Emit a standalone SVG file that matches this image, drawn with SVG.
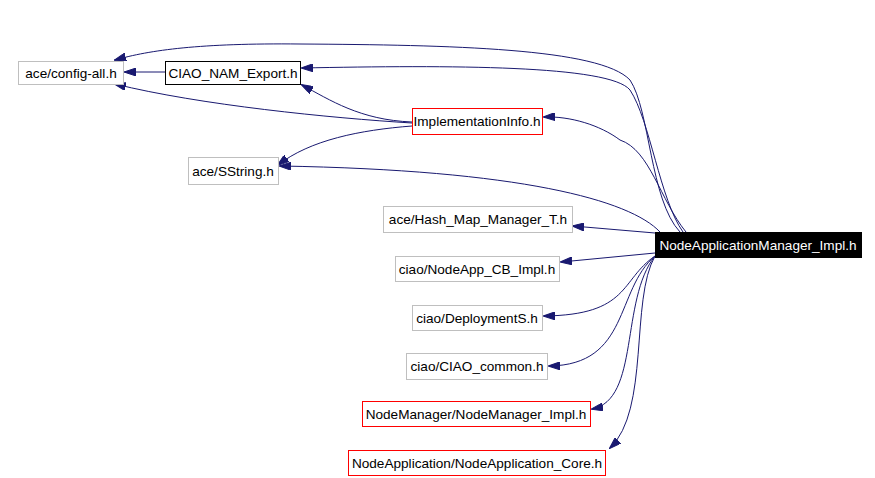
<svg xmlns="http://www.w3.org/2000/svg" width="875" height="478" viewBox="0 0 875 478">
<style>
text{font-family:"Liberation Sans",Arial,sans-serif;font-size:13.6px;fill:#000;text-anchor:middle}
.g{fill:#fff;stroke:#bfbfbf}
.k{fill:#fff;stroke:#000}
.r{fill:#fff;stroke:#f00}
.e{fill:none;stroke:#191970;stroke-width:1;marker-end:url(#a)}
</style>
<defs><marker id="a" markerWidth="12" markerHeight="8" refX="11" refY="4" orient="auto" markerUnits="userSpaceOnUse"><path d="M0,0L12,4L0,8z" fill="#191970" stroke="#191970"/></marker></defs>
<rect width="875" height="478" fill="#fff"/>
<g id="edges">
<path class="e" d="M165,72H125"/>
<path class="e" d="M412,123C330,118 200,105 115,84"/>
<path class="e" d="M412,122C360,120 330,100 302,85"/>
<path class="e" d="M412,126C360,130 310,140 278,165"/>
<path class="e" d="M680,232C650,200 650,110 630,80C600,48 450,45 300,44C200,43 150,50 115,60"/>
<path class="e" d="M683,232C660,200 650,120 630,90C610,65 450,65 302,68"/>
<path class="e" d="M686,232C660,200 650,150 620,140C600,125 570,116 544,117"/>
<path class="e" d="M660,232C630,200 520,170 280,166"/>
<path class="e" d="M655,233L573,226"/>
<path class="e" d="M655,253L561,262"/>
<path class="e" d="M655,256C620,280 630,315 544,316"/>
<path class="e" d="M655,256C615,290 630,365 549,366"/>
<path class="e" d="M655,256C620,300 640,400 592,409"/>
<path class="e" d="M655,256C630,300 650,410 610,448"/>
</g>
<g id="n1"><rect class="g" x="18.5" y="61.5" width="105" height="23"/><text x="71" y="78">ace/config-all.h</text></g>
<g id="n2"><rect class="k" x="165.5" y="61.5" width="135" height="23"/><text x="233" y="78">CIAO_NAM_Export.h</text></g>
<g id="n3"><rect class="r" x="412.5" y="108.5" width="130" height="26"/><text x="477" y="126">ImplementationInfo.h</text></g>
<g id="n4"><rect class="g" x="188.5" y="157.5" width="90" height="27"/><text x="233" y="176">ace/SString.h</text></g>
<g id="n5"><rect class="g" x="383.5" y="206.5" width="189" height="26"/><text x="478" y="224">ace/Hash_Map_Manager_T.h</text></g>
<g id="n6"><rect x="655" y="232" width="207" height="26" fill="#000"/><text x="758" y="250" style="fill:#fff">NodeApplicationManager_Impl.h</text></g>
<g id="n7"><rect class="g" x="395.5" y="256.5" width="164" height="25"/><text x="477" y="274">ciao/NodeApp_CB_Impl.h</text></g>
<g id="n8"><rect class="g" x="412.5" y="305.5" width="130" height="25"/><text x="477" y="323">ciao/DeploymentS.h</text></g>
<g id="n9"><rect class="g" x="406.5" y="353.5" width="141" height="26"/><text x="477" y="371">ciao/CIAO_common.h</text></g>
<g id="n10"><rect class="r" x="362.5" y="401.5" width="228" height="25"/><text x="476" y="419">NodeManager/NodeManager_Impl.h</text></g>
<g id="n11"><rect class="r" x="348.5" y="450.5" width="257" height="25"/><text x="477" y="468">NodeApplication/NodeApplication_Core.h</text></g>
</svg>
